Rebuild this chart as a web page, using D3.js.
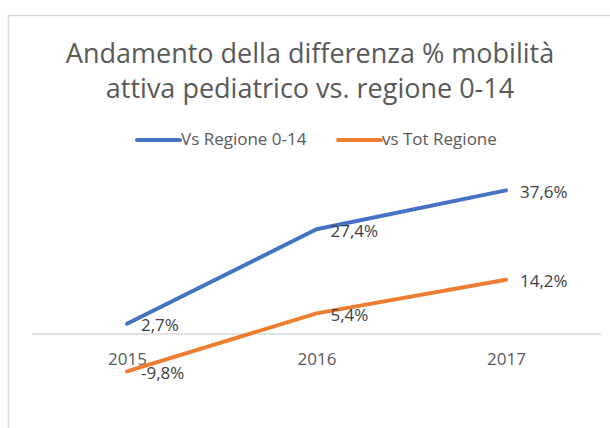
<!DOCTYPE html>
<html>
<head>
<meta charset="utf-8">
<script src="https://cdn.jsdelivr.net/npm/d3@7"></script>
<style>
  body { margin: 0; background: #fff; }
  svg text { font-family: "Open Sans", "Noto Sans", sans-serif; }
</style>
</head>
<body>
<div id="app"></div>
<script>
var years = ['2015', '2016', '2017'];
var seriesNames = ['Vs Regione 0-14', 'vs Tot Regione'];
var seriesColors = ['#4472C4', '#ED7D31'];
var vsRegione014 = [2.7, 27.4, 37.6];
var vsTotRegione = [-9.8, 5.4, 14.2];
var titleLines = ['Andamento della differenza % mobilità', 'attiva pediatrico vs. regione 0-14'];

var width = 610, height = 428;
var svg = d3.select('#app').append('svg')
    .attr('width', width)
    .attr('height', height);

// chart frame (only top and left edges visible)
svg.append('path')
    .attr('d', 'M8.5,' + height + 'V15.5H' + width)
    .attr('fill', 'none')
    .attr('stroke', '#d9d9d9')
    .attr('stroke-width', 1.5);

// title
svg.append('g').selectAll('text')
    .data(titleLines)
    .enter().append('text')
    .attr('x', 310)
    .attr('y', function(d, i) { return 63 + i * 35; })
    .attr('text-anchor', 'middle')
    .attr('font-size', 27)
    .attr('fill', '#595959')
    .text(function(d) { return d; });

var x = d3.scalePoint()
    .domain(years)
    .range([127, 506]);

var y = d3.scaleLinear()
    .domain([0, 10])
    .range([334, 295.8]);

// zero axis
svg.append('line')
    .attr('x1', 32).attr('x2', 601)
    .attr('y1', y(0)).attr('y2', y(0))
    .attr('stroke', '#d9d9d9')
    .attr('stroke-width', 1.5);

var xAxis = svg.append('g')
    .attr('transform', 'translate(0,' + y(0) + ')')
    .call(d3.axisBottom(x).tickSize(0).tickPadding(19));
xAxis.select('.domain').remove();
xAxis.selectAll('text')
    .attr('font-size', 17)
    .attr('fill', '#595959')
    .attr('font-family', '"Open Sans", sans-serif');

var series = [vsRegione014, vsTotRegione];
var line = d3.line()
    .x(function(d, i) { return x(years[i]); })
    .y(function(d) { return y(d); });

series.forEach(function(values, s) {
    svg.append('path')
        .datum(values)
        .attr('d', line)
        .attr('fill', 'none')
        .attr('stroke', seriesColors[s])
        .attr('stroke-width', 4)
        .attr('stroke-linecap', 'round')
        .attr('stroke-linejoin', 'round');

    svg.append('g').selectAll('text')
        .data(values)
        .enter().append('text')
        .attr('x', function(d, i) { return x(years[i]) + 14; })
        .attr('y', function(d) { return y(d) + 3; })
        .attr('dominant-baseline', 'middle')
        .attr('font-size', 17)
        .attr('fill', '#404040')
        .text(function(d) { return d.toFixed(1).replace('.', ',') + '%'; });
});

// legend
var legendX = [137, 338];
var legend = svg.append('g').selectAll('g')
    .data(seriesNames)
    .enter().append('g')
    .attr('transform', function(d, i) { return 'translate(' + legendX[i] + ',140)'; });
legend.append('line')
    .attr('x1', 0).attr('x2', 43)
    .attr('stroke', function(d, i) { return seriesColors[i]; })
    .attr('stroke-width', 4)
    .attr('stroke-linecap', 'round');
legend.append('text')
    .attr('x', 44)
    .attr('y', 0)
    .attr('dominant-baseline', 'middle')
    .attr('font-size', 17)
    .attr('fill', '#595959')
    .text(function(d) { return d; });
</script>
</body>
</html>
